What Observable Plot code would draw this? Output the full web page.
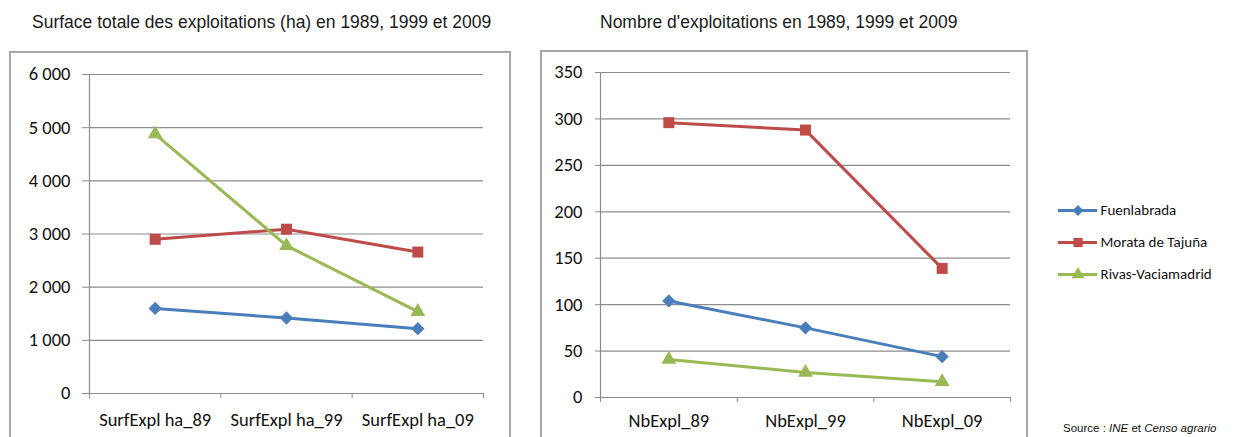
<!DOCTYPE html>
<html>
<head>
<meta charset="utf-8">
<script src="https://cdn.jsdelivr.net/npm/d3@7"></script>
<script src="https://cdn.jsdelivr.net/npm/@observablehq/plot@0.6"></script>
<style>
  html, body { margin: 0; padding: 0; background: #fff; }
  body { position: relative; width: 1243px; height: 437px; overflow: hidden; }
  .abs { position: absolute; }
  .title { font-family: "Liberation Sans", Arial, sans-serif; font-size: 17.5px; color: #1a1a1a; white-space: nowrap; }
  .box { box-sizing: border-box; border: 2px solid #a8a8a8; }
  .source { font-family: "Liberation Sans", Arial, sans-serif; font-size: 11.5px; color: #111; white-space: nowrap; }
</style>
</head>
<body>
<div class="abs box" style="left:9px; top:51px; width:502px; height:420px;"></div>
<div class="abs box" style="left:540px; top:50px; width:488px; height:420px;"></div>
<div class="abs title" style="left:32px; top:12px;">Surface totale des exploitations (ha) en 1989, 1999 et 2009</div>
<div class="abs title" style="left:600px; top:12px;">Nombre d'exploitations en 1989, 1999 et 2009</div>
<div id="left" class="abs" style="left:12px; top:54px;"></div>
<div id="right" class="abs" style="left:544px; top:54px;"></div>
<div id="legend" class="abs" style="left:1050px; top:190px;"></div>
<div class="abs source" style="left:1063px; top:422px;">Source : <i>INE</i> et <i>Censo agrario</i></div>
<script>
// ---- data ----
const communes = ["Fuenlabrada", "Morata de Tajuña", "Rivas-Vaciamadrid"];
const surfCategories = ["SurfExpl ha_89", "SurfExpl ha_99", "SurfExpl ha_09"];
const nbCategories = ["NbExpl_89", "NbExpl_99", "NbExpl_09"];
const surfFuenlabrada = [1600, 1420, 1220];
const surfMorata = [2900, 3090, 2660];
const surfRivas = [4880, 2780, 1540];
const nbFuenlabrada = [104, 75, 44];
const nbMorata = [296, 288, 139];
const nbRivas = [41, 27, 17];
const surfTicks = [0, 1000, 2000, 3000, 4000, 5000, 6000];
const nbTicks = [0, 50, 100, 150, 200, 250, 300, 350];

// ---- styles ----
const colors = ["#4a7ebb", "#be4b48", "#98b954"];
const symbols = ["diamond2", "square", "triangle"];
const markerR = [6.0, 6.2, 5.5];
const legendR = [5.0, 5.2, 4.8];
const gray = "#8c8c8c";
const tickFont = "Carlito, Lato, sans-serif";

const fmt = d3.formatLocale({decimal: ",", thousands: " ", grouping: [3], currency: ["", " €"]}).format(",");

function rows(seriesList, categories) {
  const out = [];
  seriesList.forEach((vals, s) => vals.forEach((v, i) => out.push({commune: communes[s], s, i, cat: categories[i], value: v})));
  return out;
}

function chart({series, categories, ticks, yMax, width, height, margins, ytick, xpad}) {
  const data = rows(series, categories);
  const marks = [
    Plot.gridY({ticks, stroke: gray, strokeOpacity: 1, strokeWidth: 1.2}),
    Plot.ruleX([0], {stroke: gray, strokeWidth: 1.2}),
    Plot.ruleY([0], {stroke: gray, strokeWidth: 1.2}),
    Plot.axisY({ticks, tickSize: ytick[0], tickPadding: ytick[1], tickFormat: fmt, label: null, stroke: gray, fill: "#111"}),
    Plot.axisX({ticks: d3.range(categories.length + 1), tickSize: 5, tickFormat: () => "", label: null, stroke: gray}),
    Plot.axisX({ticks: categories.map((_, i) => i + 0.5), tickSize: 0, tickPadding: xpad, tickFormat: v => categories[Math.floor(v)], label: null, fill: "#111"})
  ];
  communes.forEach((c, s) => {
    const d = data.filter(r => r.s === s);
    marks.push(Plot.line(d, {x: r => r.i + 0.5, y: "value", stroke: colors[s], strokeWidth: 3, strokeLinejoin: "round"}));
    marks.push(Plot.dot(d, {x: r => r.i + 0.5, y: "value", symbol: () => symbols[s], fill: colors[s], r: markerR[s]}));
  });
  return Plot.plot({
    width, height,
    marginLeft: margins[0], marginRight: margins[1], marginTop: margins[2], marginBottom: margins[3],
    x: {domain: [0, categories.length]},
    y: {domain: [0, yMax]},
    symbol: {type: "identity"},
    style: {fontFamily: tickFont, fontSize: "18.5px", background: "transparent", color: "#111"},
    marks
  });
}

document.getElementById("left").append(chart({
  series: [surfFuenlabrada, surfMorata, surfRivas],
  categories: surfCategories, ticks: surfTicks, yMax: 6000,
  width: 496, height: 383, margins: [77, 25, 20, 44], ytick: [7, 12], xpad: 19
}));

document.getElementById("right").append(chart({
  series: [nbFuenlabrada, nbMorata, nbRivas],
  categories: nbCategories, ticks: nbTicks, yMax: 350,
  width: 480, height: 383, margins: [56, 14, 18, 40], ytick: [5, 13], xpad: 16
}));

// legend
const legendMarks = [];
communes.forEach((c, s) => {
  const d = [{commune: c, s}];
  legendMarks.push(Plot.ruleY(d, {y: "commune", x1: 0, x2: 1, stroke: colors[s], strokeWidth: 3}));
  legendMarks.push(Plot.dot(d, {x: 0.5, y: "commune", symbol: () => symbols[s], fill: colors[s], r: legendR[s]}));
  legendMarks.push(Plot.text(d, {x: 1, y: "commune", text: "commune", textAnchor: "start", dx: 3, fill: "#111"}));
});
document.getElementById("legend").append(Plot.plot({
  width: 190, height: 100,
  marginLeft: 8, marginRight: 143, marginTop: 19, marginBottom: 16,
  x: {domain: [0, 1], axis: null},
  y: {type: "point", domain: communes, padding: 0, axis: null},
  symbol: {type: "identity"},
  style: {fontFamily: tickFont, fontSize: "15px", background: "transparent", color: "#111"},
  marks: legendMarks
}));
</script>
</body>
</html>
